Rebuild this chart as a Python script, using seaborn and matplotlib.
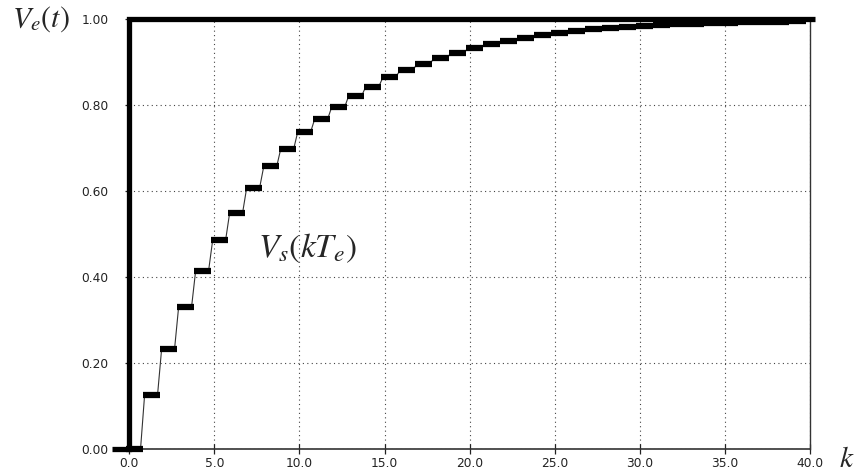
import numpy as np
import matplotlib.pyplot as plt
import seaborn as sns

k = np.arange(0, 40)
vs = [0.000, 0.126, 0.233, 0.331, 0.415, 0.486, 0.550, 0.608, 0.657, 0.698,
      0.738, 0.768, 0.796, 0.822, 0.843, 0.864, 0.881, 0.895, 0.909, 0.921,
      0.932, 0.941, 0.949, 0.956, 0.962, 0.967, 0.972, 0.976, 0.979, 0.982,
      0.984, 0.986, 0.988, 0.989, 0.990, 0.991, 0.992, 0.993, 0.994, 0.995]

# input step V_e(t)
t_in = [-1.0, 0.0, 0.0, 40.3]
ve_in = [0.0, 0.0, 1.0, 1.0]

x_ticks = [0, 5, 10, 15, 20, 25, 30, 35, 40]
x_labels = ["0.0", "5.0", "10.0", "15.0", "20.0", "25.0", "30.0", "35.0", "40.0"]
y_ticks = [0.0, 0.2, 0.4, 0.6, 0.8, 1.0]
y_labels = ["0.00", "0.20", "0.40", "0.60", "0.80", "1.00"]

sns.set_style("white")
plt.rcParams["mathtext.fontset"] = "stix"
plt.rcParams["font.family"] = ["DejaVu Sans"]

fig = plt.figure(figsize=(8.58, 4.75), dpi=100)
ax = fig.add_axes([0.1507, 0.0547, 0.7934, 0.9053])

shift = 0.78  # hold segments end slightly after each sample instant
vs = np.asarray(vs)

# thin connectors between held values (slightly slanted)
xc, yc = [], []
for n in range(1, len(k)):
    xc += [k[n] + shift - 1 - 0.12, k[n] + shift - 1 + 0.12]
    yc += [vs[n - 1], vs[n]]
sns.lineplot(x=xc, y=yc, sort=False, estimator=None, color="#333333",
             linewidth=0.8, ax=ax, clip_on=False)

# thick held values
ax.hlines(vs, k + shift - 1, k + shift, colors="black", linewidth=4.5,
          capstyle="butt", clip_on=False, zorder=4)

# input step
sns.lineplot(x=t_in, y=ve_in, sort=False, estimator=None, color="black",
             linewidth=3.8, ax=ax, clip_on=False, zorder=5)
ax.lines[-1].set_solid_joinstyle("miter")
ax.lines[-1].set_solid_capstyle("butt")

ax.set_xlim(0, 40)
ax.set_ylim(0, 1)
ax.set_xticks(x_ticks)
ax.set_xticklabels(x_labels)
ax.set_yticks(y_ticks)
ax.set_yticklabels(y_labels)
ax.grid(True, color="#444444", linestyle=(0, (1, 3)), linewidth=0.8)
ax.tick_params(axis="x", direction="inout", length=7, width=0.9, pad=2,
               labelsize=8.8, colors="#222222")
ax.tick_params(axis="y", direction="out", length=3, width=0.9, pad=12,
               labelsize=8.8, colors="#222222")
ax.tick_params(left=True, bottom=True)

for side in ["top", "left"]:
    ax.spines[side].set_visible(False)
ax.spines["bottom"].set_color("#333333")
ax.spines["bottom"].set_linewidth(1.2)
ax.spines["right"].set_color("#333333")
ax.spines["right"].set_linewidth(1.0)

ax.set_xlabel("")
ax.set_ylabel("")

ax.text(7.55, 0.447, r"$V_s(kT_e)$", fontsize=24, ha="left", va="baseline")
fig.text(0.014, 0.943, r"$V_e(t)$", fontsize=21.5, ha="left", va="baseline")
fig.text(0.978, 0.017, r"$k$", fontsize=21, ha="left", va="baseline")

fig.savefig("out.png", dpi=100)
